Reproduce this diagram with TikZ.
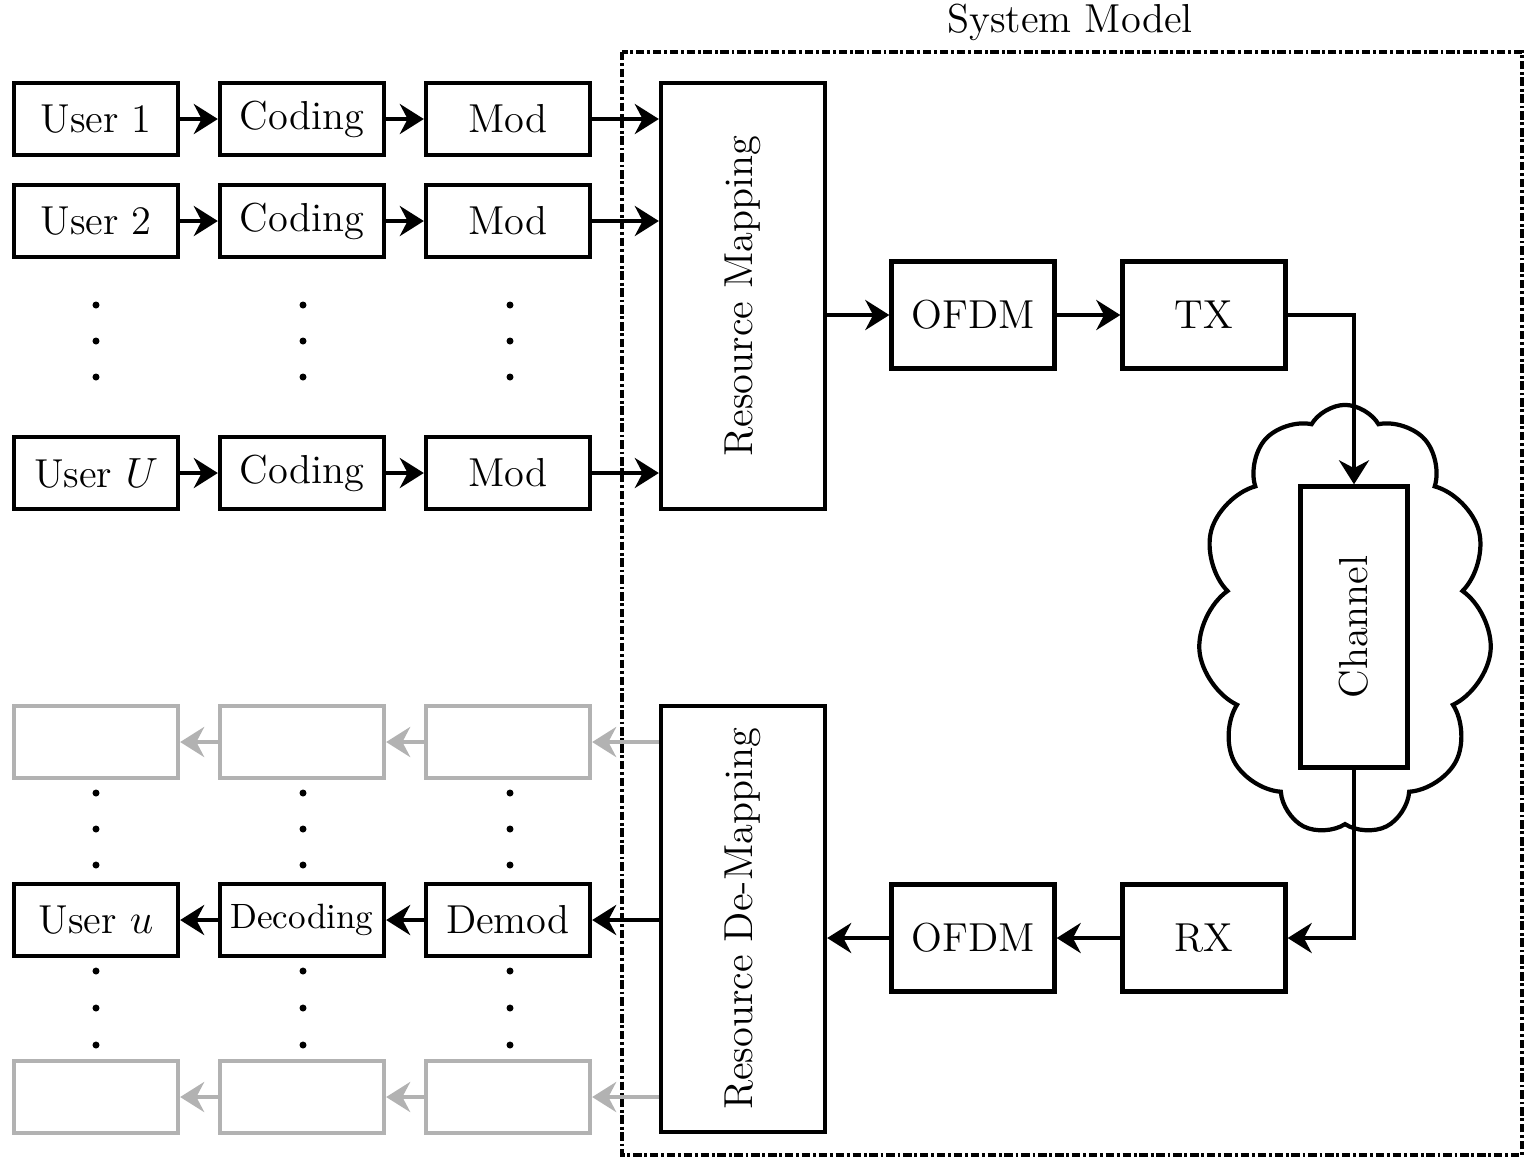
\documentclass[tikz,border=0pt]{standalone}
\usetikzlibrary{arrows.meta, positioning, shapes.symbols}

\begin{document}
\begin{tikzpicture}[x=0.01cm,y=-0.01cm,font=\fontsize{11.5}{14}\selectfont,blk/.style={draw,line width=1.2pt,minimum width=1.64cm,minimum height=0.72cm,inner sep=1pt},gblk/.style={blk,draw=black!30},sqblk/.style={draw,line width=1.2pt,minimum width=1.63cm,minimum height=1.07cm},tallblk/.style={draw,line width=1.2pt,minimum width=1.64cm,minimum height=4.26cm},arrow/.style={line width=1.2pt,-{Stealth[length=2.4mm,width=3mm]}},garrow/.style={arrow,color=black!30},sysbox/.style={line width=0.9pt,dash pattern=on 2.4pt off 0.8pt on 0.8pt off 0.8pt}]
\useasboundingbox (0,0) rectangle (1524,1159);
\draw[sysbox] (622,52) rectangle (1522,1155);
\node (title) at (1070,22){System Model};
% transmitter side
\node[blk] (user1) at (96,119){User 1};
\node[blk] (cod1) at (302,119){Coding};
\node[blk] (mod1) at (508,119){Mod};
\node[blk] (user2) at (96,221){User 2};
\node[blk] (cod2) at (302,221){Coding};
\node[blk] (mod2) at (508,221){Mod};
\node[blk] (userU) at (96,473){User $U$};
\node[blk] (codU) at (302,473){Coding};
\node[blk] (modU) at (508,473){Mod};
\node[tallblk] (map) at (743,296){\rotatebox{90}{Resource Mapping}};
\node[sqblk] (ofdmtx) at (973,315){OFDM};
\node[sqblk] (tx) at (1204,315){TX};
\draw[arrow] (user1) -- (cod1); \draw[arrow] (cod1) -- (mod1); \draw[arrow] (mod1.east) -- (mod1.east -| map.west);
\draw[arrow] (user2) -- (cod2); \draw[arrow] (cod2) -- (mod2); \draw[arrow] (mod2.east) -- (mod2.east -| map.west);
\draw[arrow] (userU) -- (codU); \draw[arrow] (codU) -- (modU); \draw[arrow] (modU.east) -- (modU.east -| map.west);
\draw[arrow] (ofdmtx.west -| map.east) -- (ofdmtx.west); \draw[arrow] (ofdmtx) -- (tx);
% channel
\node[cloud,draw,line width=1.2pt,cloud puffs=11,cloud puff arc=120,aspect=0.68,minimum width=2.94cm,minimum height=4.3cm] (cloud) at (1345,620){};
\node[draw,fill=white,line width=1.2pt,minimum width=1.07cm,minimum height=2.81cm] (chan) at (1354,627){\rotatebox{90}{Channel}};
\draw[arrow] (tx.east) -| (chan.north);
% receiver side
\node[sqblk] (rx) at (1204,938){RX};
\node[sqblk] (ofdmrx) at (973,938){OFDM};
\node[tallblk] (demap) at (743,919){\rotatebox{90}{Resource De-Mapping}};
\draw[arrow] (chan.south) |- (rx.east); \draw[arrow] (rx) -- (ofdmrx); \draw[arrow] (ofdmrx.west) -- (ofdmrx.west -| demap.east);
\node[gblk] (gdem1) at (508,742){};
\node[gblk] (gdec1) at (302,742){};
\node[gblk] (guser1) at (96,742){};
\node[blk] (demod) at (508,920){Demod};
\node[blk] (decod) at (302,920){\normalsize Decoding};
\node[blk] (useru) at (96,920){User $u$};
\node[gblk] (gdem2) at (508,1097){};
\node[gblk] (gdec2) at (302,1097){};
\node[gblk] (guser2) at (96,1097){};
\draw[garrow] (gdem1.east -| demap.west) -- (gdem1.east); \draw[garrow] (gdem1) -- (gdec1); \draw[garrow] (gdec1) -- (guser1);
\draw[arrow] (demod.east -| demap.west) -- (demod.east); \draw[arrow] (demod) -- (decod); \draw[arrow] (decod) -- (useru);
\draw[garrow] (gdem2.east -| demap.west) -- (gdem2.east); \draw[garrow] (gdem2) -- (gdec2); \draw[garrow] (gdec2) -- (guser2);
% vertical dots
\fill (96,305) circle[radius=0.035cm] (96,341) circle[radius=0.035cm] (96,377) circle[radius=0.035cm] (303,305) circle[radius=0.035cm] (303,341) circle[radius=0.035cm] (303,377) circle[radius=0.035cm] (510,305) circle[radius=0.035cm] (510,341) circle[radius=0.035cm] (510,377) circle[radius=0.035cm];
\fill (96,793) circle[radius=0.035cm] (96,829) circle[radius=0.035cm] (96,865) circle[radius=0.035cm] (303,793) circle[radius=0.035cm] (303,829) circle[radius=0.035cm] (303,865) circle[radius=0.035cm] (510,793) circle[radius=0.035cm] (510,829) circle[radius=0.035cm] (510,865) circle[radius=0.035cm];
\fill (96,971) circle[radius=0.035cm] (96,1008) circle[radius=0.035cm] (96,1045) circle[radius=0.035cm] (303,971) circle[radius=0.035cm] (303,1008) circle[radius=0.035cm] (303,1045) circle[radius=0.035cm] (510,971) circle[radius=0.035cm] (510,1008) circle[radius=0.035cm] (510,1045) circle[radius=0.035cm];
\end{tikzpicture}
\end{document}
